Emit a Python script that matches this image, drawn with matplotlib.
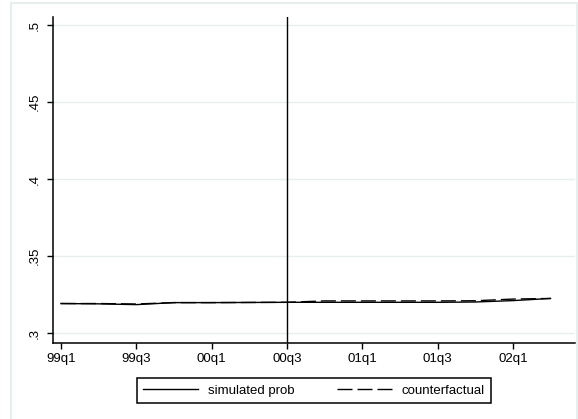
import matplotlib.pyplot as plt
from matplotlib.patches import Rectangle

quarters = ["99q1", "99q2", "99q3", "99q4", "00q1", "00q2", "00q3",
            "00q4", "01q1", "01q2", "01q3", "01q4", "02q1", "02q2"]
simulated = [0.3193, 0.3191, 0.3186, 0.3199, 0.3199, 0.3200, 0.3201,
             0.3201, 0.3201, 0.3201, 0.3201, 0.3203, 0.3212, 0.3226]
counterfactual = [0.3193, 0.3193, 0.3190, 0.3199, 0.3199, 0.3200, 0.3201,
                  0.3210, 0.3210, 0.3210, 0.3210, 0.3211, 0.3222, 0.3226]
tick_labels = ["99q1", "99q3", "00q1", "00q3", "01q1", "01q3", "02q1"]
y_ticks = [0.3, 0.35, 0.4, 0.45, 0.5]
y_labels = [".3", ".35", ".4", ".45", ".5"]
event_quarter = "00q3"

plt.rcParams["font.family"] = ["Liberation Sans", "DejaVu Sans"]

fig = plt.figure(figsize=(5.78, 4.19), dpi=100)
W, H = 578, 419

# faint outer frame like the Stata graph region
fig.patches.append(Rectangle((11 / W, -0.02), (577 - 11) / W, 1.02 - 3 / H,
                             transform=fig.transFigure, fill=False,
                             edgecolor="#e6eeee", lw=1.5))

ax = fig.add_axes([53 / W, 1 - 343 / H, (575 - 53) / W, (343 - 17) / H])

x = list(range(len(quarters)))
ax.plot(x, simulated, color="black", lw=1.0, label="simulated prob")
ax.plot(x, counterfactual, color="black", lw=1.0, dashes=(10.8, 3.6),
        label="counterfactual")
ax.axvline(quarters.index(event_quarter), color="black", lw=1.0)

ax.set_xlim(-0.21, 13.65)
ax.set_ylim(0.2937, 0.5052)

ax.set_xticks([quarters.index(q) for q in tick_labels])
ax.set_xticklabels(tick_labels, fontsize=9.5)
ax.set_yticks(y_ticks)
ax.set_yticklabels(y_labels, fontsize=9.5, rotation=90, va="center")
ax.tick_params(axis="both", length=4, width=1.0, color="black")
ax.tick_params(axis="x", pad=3)
ax.tick_params(axis="y", pad=5)

for yv in y_ticks:
    ax.axhline(yv, color="#e6eeee", lw=1.0, zorder=0)

for side in ["top", "right"]:
    ax.spines[side].set_visible(False)
for side in ["left", "bottom"]:
    ax.spines[side].set_linewidth(1.1)

leg = fig.legend(loc="center", bbox_to_anchor=(314 / W, 1 - 390.5 / H),
                 ncol=2, fontsize=9.5, handlelength=4.17, columnspacing=3.2,
                 handletextpad=0.75, fancybox=False, framealpha=1,
                 borderpad=0.45, borderaxespad=0)
leg.get_frame().set_edgecolor("black")
leg.get_frame().set_linewidth(1.1)

fig.savefig("out.png", dpi=100)
